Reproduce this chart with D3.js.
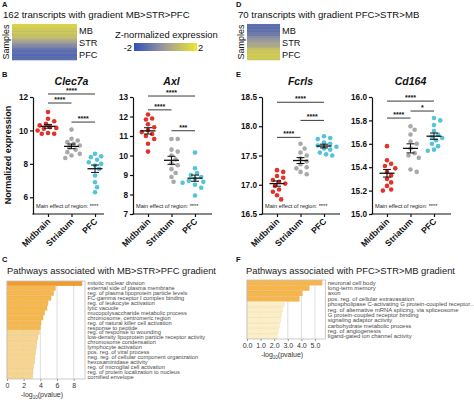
<!DOCTYPE html>
<html><head><meta charset="utf-8">
<script src="https://cdn.jsdelivr.net/npm/d3@7"></script>
<style>body{margin:0;background:#fff}svg{display:block;font-family:Arial,"Liberation Sans",sans-serif}</style>
</head><body><svg id="c" width="474" height="400"></svg>
<script>
// ---------------- DATA ----------------
const regions = ["Midbrain", "Striatum", "PFC"];
const heatRows = ["MB", "STR", "PFC"];
// per-sample mean z-scores (12 samples per region)
const heatA_MB  = [1.5, 1.4, 1.5, 1.3, 1.2, 1.3, 1.1, 0.9, 1.2, 1.1, 1.0, 0.9];
const heatA_STR = [0.9, 1.0, 0.7, 0.5, 0.3, 0.1, 0.0, -0.2, -0.4, -0.5, -0.6, -0.7];
const heatA_PFC = [-1.0, -1.1, -1.2, -1.3, -1.1, -1.2, -1.3, -1.4, -1.2, -1.3, -1.2, -1.2];
const heatD_MB  = [-1.2, -1.3, -1.1, -1.2, -1.3, -1.0, -1.1, -1.2, -0.9, -1.0, -0.8, -0.9];
const heatD_STR = [-0.5, -0.4, -0.3, -0.2, -0.1, 0.0, 0.1, 0.2, 0.3, 0.2, 0.4, 0.5];
const heatD_PFC = [0.9, 1.0, 1.1, 1.2, 1.1, 1.2, 1.3, 1.2, 1.1, 1.3, 1.2, 1.1];
const zTicks = [-2, 2];

const clec7a = {
  Midbrain: [11.1, 10.7, 10.55, 10.4, 10.3, 10.2, 10.15, 10.1, 10.0, 9.85, 9.8, 9.8],
  Striatum: [10.05, 9.5, 9.4, 9.3, 9.2, 9.1, 9.0, 8.85, 8.7, 8.6, 8.5, 8.35],
  PFC:      [8.6, 8.45, 8.4, 8.25, 8.1, 8.0, 7.9, 7.7, 7.3, 6.9, 6.6, 6.3]
};
const axl = {
  Midbrain: [12.1, 11.9, 11.85, 11.6, 11.45, 11.3, 11.2, 11.1, 11.0, 10.85, 10.6, 10.2],
  Striatum: [10.85, 10.85, 10.3, 10.2, 10.0, 9.8, 9.6, 9.5, 9.3, 9.1, 8.9, 8.65],
  PFC:      [10.15, 9.35, 9.1, 9.0, 8.9, 8.8, 8.7, 8.65, 8.6, 8.5, 8.35, 7.95]
};
const fcrls = {
  Midbrain: [17.25, 17.22, 17.15, 17.12, 17.08, 17.05, 17.02, 16.98, 16.92, 16.88, 16.82, 16.75],
  Striatum: [17.7, 17.62, 17.55, 17.5, 17.45, 17.4, 17.35, 17.3, 17.28, 17.22, 17.18],
  PFC:      [17.83, 17.8, 17.78, 17.72, 17.7, 17.67, 17.65, 17.62, 17.6, 17.55, 17.52, 17.5]
};
const cd164 = {
  Midbrain: [15.58, 15.46, 15.43, 15.41, 15.39, 15.36, 15.33, 15.3, 15.27, 15.24, 15.21, 15.2],
  Striatum: [15.75, 15.72, 15.68, 15.62, 15.6, 15.56, 15.52, 15.5, 15.48, 15.38, 15.36],
  PFC:      [15.82, 15.8, 15.76, 15.71, 15.68, 15.66, 15.65, 15.63, 15.6, 15.58, 15.55, 15.54]
};
const ticksClec7a = [6, 8, 10, 12];
const ticksAxl = [7, 8, 9, 10, 11, 12, 13];
const ticksFcrls = [16.5, 17.0, 17.5, 18.0, 18.5];
const ticksCd164 = [15.0, 15.2, 15.4, 15.6, 15.8, 16.0];
// significance brackets: [from, to, stars, level in data units]
const sigClec7a = [["Midbrain", "PFC", "****", 12.18], ["Midbrain", "Striatum", "****", 11.64], ["Striatum", "PFC", "****", 10.5]];
const sigAxl = [["Midbrain", "PFC", "****", 13.05], ["Midbrain", "Striatum", "****", 12.34], ["Striatum", "PFC", "***", 11.27]];
const sigFcrls = [["Midbrain", "PFC", "****", 18.41], ["Striatum", "PFC", "****", 18.1], ["Midbrain", "Striatum", "****", 17.81]];
const sigCd164 = [["Midbrain", "PFC", "****", 15.965], ["Striatum", "PFC", "*", 15.88], ["Midbrain", "Striatum", "****", 15.82]];

const pathwaysC = ["mitotic nuclear division", "external side of plasma membrane", "reg. of plasma lipoprotein particle levels",
  "FC-gamma receptor I complex binding", "reg. of leukocyte activation", "lytic vacuole", "mucopolysaccharide metabolic process",
  "chromosome, centromeric region", "reg. of natural killer cell activation", "response to peptide", "reg. of response to wounding",
  "low-density lipoprotein particle receptor activity", "chromosome condensation", "lymphocyte activation", "pos. reg. of viral process",
  "neg. reg. of cellular component organization", "hexosaminidase activity", "reg. of microglial cell activation",
  "reg. of protein localization to nucleus", "cornified envelope"];
const logpC = [9.0, 5.8, 5.6, 5.28, 4.92, 4.8, 4.52, 4.32, 4.08, 4.0, 3.88, 3.72, 3.6, 3.52, 3.44, 3.36, 3.28, 3.16, 3.12, 3.08];
const ticksC = [0, 2, 4, 6, 8];
const pathwaysF = ["neuronal cell body", "long-term memory", "axon", "pos. reg. of cellular extravasation",
  "phospholipase C-activating G protein-coupled receptor...", "reg. of alternative mRNA splicing, via spliceosome",
  "G protein-coupled receptor binding", "signaling adaptor activity", "carbohydrate metabolic process",
  "reg. of angiogenesis", "ligand-gated ion channel activity"];
const logpF = [5.52, 4.57, 4.06, 3.84, 2.74, 2.62, 2.55, 2.47, 2.37, 2.3, 2.22];
const ticksF = [0, 1, 2, 3, 4, 5];

// ---------------- DRAW ----------------
const svg = d3.select("#c");
const regionColor = d3.scaleOrdinal().domain(regions).range(["#e3312b", "#a9a9a9", "#55c3d8"]);
const zColor = d3.scaleLinear().domain([-2, 0, 2]).range(["#3150bb", "#a09e9a", "#ece62e"]);

function label(x, y, t, size, weight) {
  return svg.append("text").attr("x", x).attr("y", y).text(t)
    .attr("font-size", size).attr("font-weight", weight || "normal").attr("fill", "#111");
}

// panel letters
label(2, 7, "A", 7.5, "bold");
label(236, 7, "D", 7.5, "bold");
label(2, 77, "B", 7.5, "bold");
label(236, 77, "E", 7.5, "bold");
label(2, 262, "C", 7.5, "bold");
label(236, 262, "F", 7.5, "bold");

// heatmaps
function heatmap(x0, x1, title, rowsData) {
  label(x0 - 9, 18, title, 9.6);
  const samples = [];
  rowsData.forEach((arr, gi) => arr.forEach((z, i) => samples.push({ g: heatRows[gi], i, z })));
  const y = d3.scaleBand().domain(d3.range(samples.length)).range([24, 60]);
  svg.append("g").selectAll("rect").data(samples).join("rect")
    .attr("x", x0).attr("width", x1 - x0)
    .attr("y", (d, i) => y(i)).attr("height", y.bandwidth() + 0.3)
    .attr("fill", d => zColor(d.z));
  const yg = d3.scaleBand().domain(heatRows).range([24, 60]);
  heatRows.forEach(r => label(x1 + 2, yg(r) + yg.bandwidth() / 2 + 3.5, r, 9.2));
  svg.append("text").attr("transform", `translate(${x0 - 3},42) rotate(-90)`).attr("text-anchor", "middle")
    .attr("font-size", 9).attr("fill", "#111").text("Samples");
}
heatmap(12, 77, "162 transcripts with gradient MB>STR>PFC", [heatA_MB, heatA_STR, heatA_PFC]);
heatmap(247, 280, "70 transcripts with gradient PFC>STR>MB", [heatD_MB, heatD_STR, heatD_PFC]);

// colorbar
const defs = svg.append("defs");
const grad = defs.append("linearGradient").attr("id", "zg");
d3.range(0, 1.01, 0.1).forEach(t => grad.append("stop").attr("offset", t).attr("stop-color", zColor(-2 + 4 * t)));
const cbX = d3.scaleLinear().domain([-2, 2]).range([134, 197]);
svg.append("rect").attr("x", cbX(-2)).attr("y", 43).attr("width", cbX(2) - cbX(-2)).attr("height", 8).attr("fill", "url(#zg)");
label(115, 38, "Z-normalized expression", 9.4);
svg.append("text").attr("x", cbX(-2) - 2).attr("y", 50.5).attr("text-anchor", "end").attr("font-size", 9.4).attr("fill", "#111").text(zTicks[0]);
svg.append("text").attr("x", cbX(2) + 1).attr("y", 50.5).attr("font-size", 9.4).attr("fill", "#111").text(zTicks[1]);

// dot plots
const TOP = 97, BOT = 214;
function swarm(vals, cx, y, r) {
  const placed = [];
  const pts = vals.map(v => ({ v, y: y(v) })).sort((a, b) => a.y - b.y);
  pts.forEach(p => {
    for (let k = 0; k < 40; k++) {
      const off = k === 0 ? 0 : (k % 2 ? 1 : -1) * Math.ceil(k / 2) * r * 0.9;
      const px = cx + off;
      if (placed.every(q => (q.x - px) ** 2 + (q.y - p.y) ** 2 >= (2 * r + 0.6) ** 2)) { p.x = px; placed.push(p); break; }
    }
  });
  return placed;
}
function dotPlot(title, data, domain, ticks, fmt, x0, x1, sigs) {
  const y = d3.scaleLinear().domain(domain).range([BOT, TOP]);
  const x = d3.scalePoint().domain(regions).range([x0 + 15, x0 + 62]);
  const g = svg.append("g");
  const ay = g.append("g").attr("transform", `translate(${x0},0)`)
    .call(d3.axisLeft(y).tickValues(ticks).tickFormat(fmt).tickSize(3).tickSizeOuter(0).tickPadding(2));
  ay.select(".domain").attr("stroke", "#111").attr("stroke-width", 1.2);
  ay.selectAll(".tick line").attr("stroke", "#111").attr("stroke-width", 1.2);
  ay.selectAll(".tick text").attr("font-size", 8.2).attr("font-weight", "bold").attr("fill", "#111").attr("font-family", null);
  const ax = g.append("g").attr("transform", `translate(0,${BOT})`)
    .call(d3.axisBottom(x).tickSize(3).tickSizeOuter(0).tickFormat(""));
  ax.select(".domain").remove();
  ax.selectAll(".tick line").attr("stroke", "#111").attr("stroke-width", 1.2);
  g.append("line").attr("x1", x0 - 0.6).attr("x2", x1).attr("y1", BOT).attr("y2", BOT).attr("stroke", "#111").attr("stroke-width", 1.2);
  regions.forEach(r => {
    g.append("text").attr("transform", `translate(${x(r) + 3},${BOT + 8}) rotate(-45)`)
      .attr("text-anchor", "end").attr("font-size", 8.7).attr("font-weight", "bold").attr("fill", "#111").text(r);
  });
  g.append("text").attr("x", x("Striatum")).attr("y", 85).attr("text-anchor", "middle")
    .attr("font-size", 10.5).attr("font-weight", "bold").attr("font-style", "italic").attr("fill", "#111").text(title);
  regions.forEach(r => {
    const vals = data[r];
    const pts = swarm(vals, x(r), y, 2.3);
    g.append("g").selectAll("circle").data(pts).join("circle")
      .attr("cx", d => d.x).attr("cy", d => d.y).attr("r", 2.3).attr("fill", regionColor(r));
    const m = d3.mean(vals), se = d3.deviation(vals) / Math.sqrt(vals.length);
    const cx = x(r);
    g.append("line").attr("x1", cx - 7.5).attr("x2", cx + 7.5).attr("y1", y(m)).attr("y2", y(m)).attr("stroke", "#111").attr("stroke-width", 1.3);
    g.append("line").attr("x1", cx).attr("x2", cx).attr("y1", y(m - se)).attr("y2", y(m + se)).attr("stroke", "#111").attr("stroke-width", 1);
    [m - se, m + se].forEach(v => g.append("line").attr("x1", cx - 4).attr("x2", cx + 4).attr("y1", y(v)).attr("y2", y(v)).attr("stroke", "#111").attr("stroke-width", 1));
  });
  sigs.forEach(([a, b, s, lv]) => {
    const yy = y(lv);
    g.append("line").attr("x1", x(a)).attr("x2", x(b)).attr("y1", yy).attr("y2", yy).attr("stroke", "#222").attr("stroke-width", 0.9);
    g.append("text").attr("x", (x(a) + x(b)) / 2).attr("y", yy - 1.2).attr("text-anchor", "middle")
      .attr("font-size", 7).attr("font-weight", "bold").attr("fill", "#111").text(s);
  });
  g.append("text").attr("x", x0 + 3).attr("y", 208).attr("font-size", 5.6).attr("fill", "#222").text("Main effect of region: ****");
}
dotPlot("Clec7a", clec7a, [5, 12], ticksClec7a, d3.format("d"), 33, 104, sigClec7a);
dotPlot("Axl", axl, [7, 13], ticksAxl, d3.format("d"), 133, 212, sigAxl);
dotPlot("Fcrls", fcrls, [16.5, 18.5], ticksFcrls, d3.format(".1f"), 262, 340, sigFcrls);
dotPlot("Cd164", cd164, [15, 16], ticksCd164, d3.format(".1f"), 372, 451, sigCd164);
svg.append("text").attr("transform", "translate(11,155) rotate(-90)").attr("text-anchor", "middle")
  .attr("font-size", 9).attr("font-weight", "bold").attr("fill", "#111").text("Normalized expression");

// bar charts
function barChart(title, titleX, names, vals, ticks, x0, x1, dmax, top, bot, color, labSize) {
  const g = svg.append("g");
  g.append("text").attr("x", titleX).attr("y", 274).attr("font-size", 9.4).attr("fill", "#222").text(title);
  const x = d3.scaleLinear().domain([0, dmax]).range([x0, x1]);
  const y = d3.scaleBand().domain(names).range([top, bot]).paddingInner(0.1).paddingOuter(0.05);
  ticks.filter(t => t > 0).forEach(t => g.append("line").attr("x1", x(t)).attr("x2", x(t)).attr("y1", top).attr("y2", bot)
    .attr("stroke", "#d6d6d6").attr("stroke-width", 0.8));
  g.append("g").selectAll("rect").data(names).join("rect")
    .attr("x", x(0)).attr("y", d => y(d)).attr("height", y.bandwidth())
    .attr("width", (d, i) => x(vals[i]) - x(0))
    .attr("fill", (d, i) => color(vals[i]))
    .attr("stroke", (d, i) => d3.color(color(vals[i])).darker(0.25)).attr("stroke-width", 0.4);
  g.append("rect").attr("x", x0).attr("y", top).attr("width", x1 - x0).attr("height", bot - top)
    .attr("fill", "none").attr("stroke", "#bdbdbd").attr("stroke-width", 0.8);
  const ax = g.append("g").attr("transform", `translate(0,${bot})`)
    .call(d3.axisBottom(x).tickValues(ticks).tickSize(2).tickPadding(2).tickSizeOuter(0));
  ax.select(".domain").remove();
  ax.selectAll(".tick line").attr("stroke", "#999");
  ax.selectAll(".tick text").attr("font-size", 7).attr("fill", "#333").attr("font-family", null);
  g.append("g").selectAll("text").data(names).join("text")
    .attr("x", x1 + 2.5).attr("y", d => y(d) + y.bandwidth() / 2 + labSize * 0.35)
    .attr("font-size", labSize).attr("fill", "#4a4a4a").text(d => d);
  const xl = g.append("text").attr("x", (x0 + x1) / 2 - 4).attr("y", bot + 18).attr("text-anchor", "middle")
    .attr("font-size", 7).attr("fill", "#333");
  xl.append("tspan").text("-log");
  xl.append("tspan").attr("font-size", 4.5).attr("dy", 1.5).text("10");
  xl.append("tspan").attr("dy", -1.5).text("(pvalue)");
}
const colorC = d3.scaleThreshold().domain([3.95, 6]).range(["#f8d58f", "#f6b74c", "#f19b2e"]);
const colorF = d3.scaleThreshold().domain([3.0]).range(["#fcefc6", "#f6b64b"]);
barChart("Pathways associated with MB>STR>PFC gradient", 7, pathwaysC, logpC, ticksC, 7, 85, 9.36, 281, 379, colorC, 5.7);
barChart("Pathways associated with PFC>STR>MB gradient", 246, pathwaysF, logpF, ticksF, 247, 325.3, 5.76, 280, 339, colorF, 5.9);
</script></body></html>
